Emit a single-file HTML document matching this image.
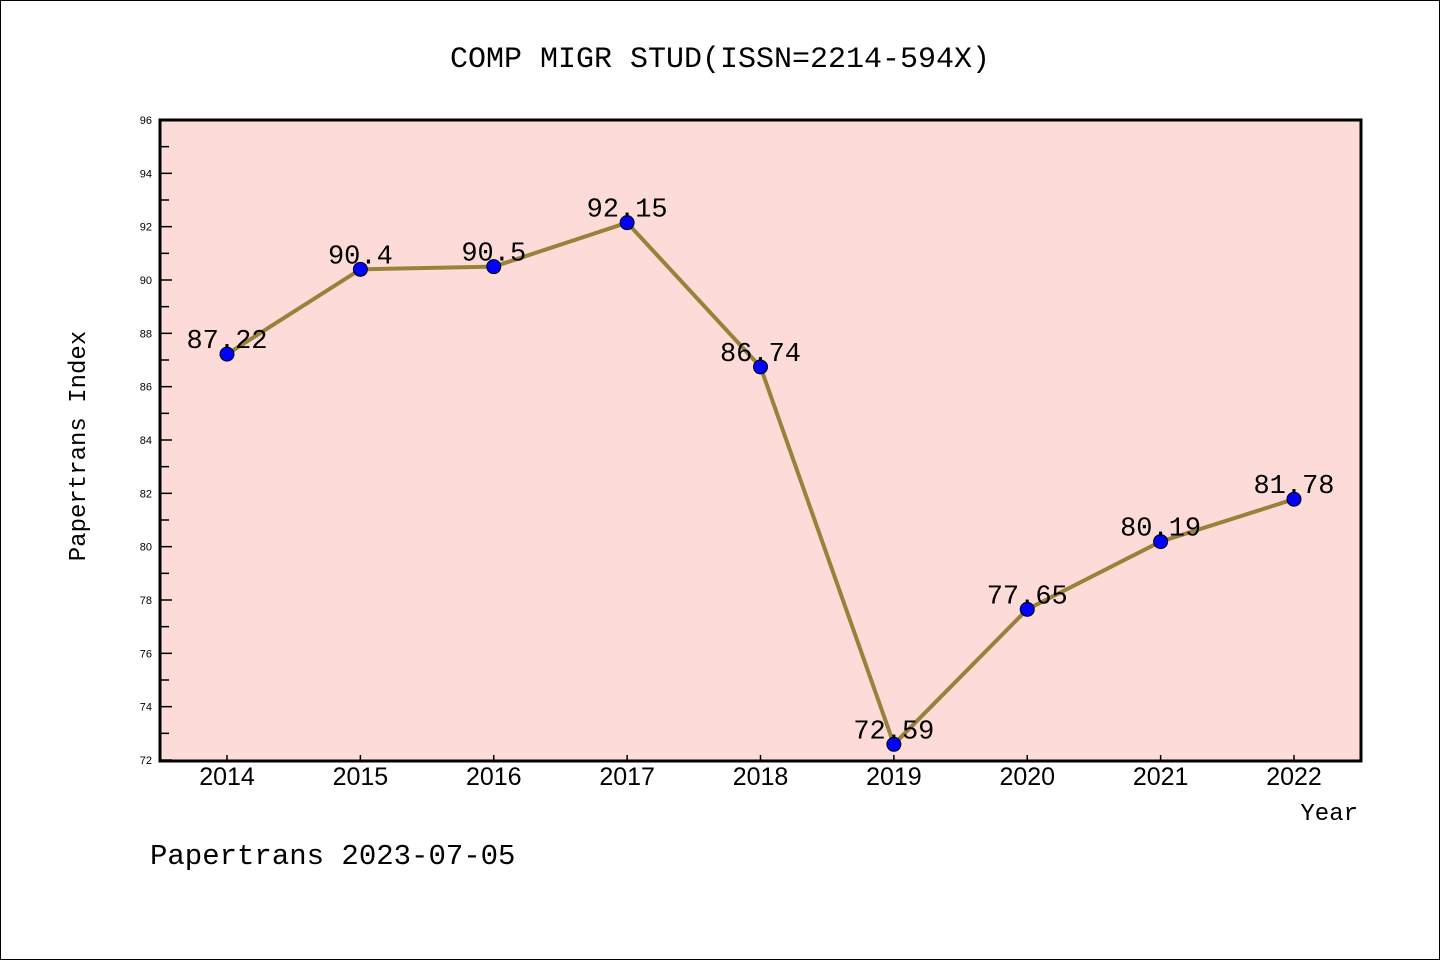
<!DOCTYPE html>
<html><head><meta charset="utf-8"><style>
body{margin:0;background:#fff}
svg{display:block}
</style></head><body>
<svg width="1440" height="960" xmlns="http://www.w3.org/2000/svg">
<rect x="0.5" y="0.5" width="1439" height="959" fill="#fff" stroke="#000"/>
<text x="720" y="67" text-anchor="middle" font-family="Liberation Mono, monospace" font-size="30">COMP MIGR STUD(ISSN=2214-594X)</text>
<rect x="160" y="120" width="1201" height="641" fill="#fddbd8"/>
<g id="axes"></g>
<g id="marks"></g>
<rect x="160" y="120" width="1201" height="641" fill="none" stroke="#000" stroke-width="3"/>
<text x="85" y="446" text-anchor="middle" transform="rotate(-90 85 446)" font-family="Liberation Mono, monospace" font-size="24">Papertrans Index</text>
<text x="1358" y="820" text-anchor="end" font-family="Liberation Mono, monospace" font-size="24">Year</text>
<text x="150" y="864" font-family="Liberation Mono, monospace" font-size="29">Papertrans 2023-07-05</text>
</svg>
<script>
const years = ['2014','2015','2016','2017','2018','2019','2020','2021','2022'];
const values = [87.22, 90.4, 90.5, 92.15, 86.74, 72.59, 77.65, 80.19, 81.78];
const labels = ['87.22','90.4','90.5','92.15','86.74','72.59','77.65','80.19','81.78'];
const yTicks = [72,74,76,78,80,82,84,86,88,90,92,94,96];
const NS='http://www.w3.org/2000/svg';
const yMin=72,yMax=96,plotTop=120,plotBot=760;
const yS=v=>plotBot-(v-yMin)/(yMax-yMin)*(plotBot-plotTop);
const xS=i=>227+i*(1294-227)/(years.length-1);
function mk(t,a,p){const e=document.createElementNS(NS,t);for(const k in a)e.setAttribute(k,a[k]);p.appendChild(e);return e;}
const ax=document.getElementById('axes'), mg=document.getElementById('marks');
yTicks.forEach((t,i)=>{
  const l=mk('line',{x1:160,x2:172,y1:yS(t),y2:yS(t),stroke:'#000','stroke-width':1.5},ax);
  
  
  const tx=mk('text',{x:152,y:yS(t)+4,'text-anchor':'end','font-family':'Liberation Sans, sans-serif','font-size':11},ax);
  tx.textContent=t;
  
  
  if(i<yTicks.length-1){
    const m=mk('line',{x1:160,x2:169,y1:yS(t+1),y2:yS(t+1),stroke:'#000','stroke-width':1.5},ax);
    
    
  }
});
years.forEach((yr,i)=>{
  const l=mk('line',{x1:xS(i),x2:xS(i),y1:761,y2:755,stroke:'#000','stroke-width':1.5},ax);
  
  
  const tx=mk('text',{x:xS(i),y:785,'text-anchor':'middle','font-family':'Liberation Sans, sans-serif','font-size':25},ax);
  tx.textContent=yr;
  
  
});
const pl=mk('polyline',{points:values.map((v,i)=>xS(i)+','+yS(v)).join(' '),fill:'none',stroke:'#98823a','stroke-width':4},mg);


values.forEach((v,i)=>{
  const c=mk('circle',{cx:xS(i),cy:yS(v),r:7,fill:'#0000ff',stroke:'#000','stroke-width':1},mg);
  
  
  const t=mk('text',{x:xS(i),y:yS(v)-6,'text-anchor':'middle','font-family':'Liberation Mono, monospace','font-size':27},mg);
  t.textContent=labels[i];
  
  
});
</script>
</body></html>
